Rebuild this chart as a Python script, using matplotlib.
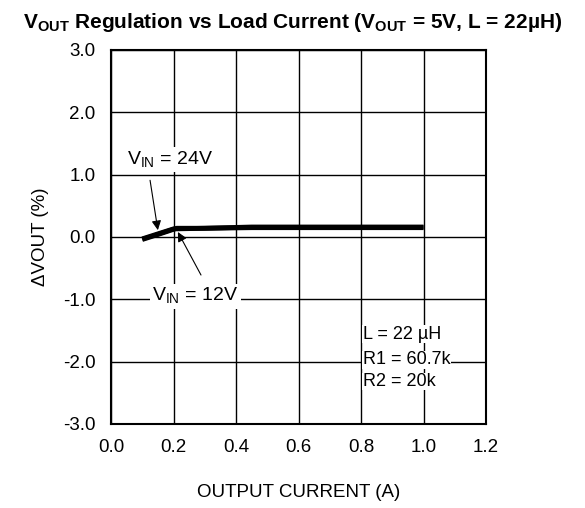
import matplotlib
matplotlib.use('Agg')
import matplotlib.pyplot as plt

plt.rcParams['font.family'] = ['Liberation Sans', 'DejaVu Sans']

# output current (A) vs delta Vout (%)
i_24v = [0.10, 0.15, 0.20, 0.30, 0.45, 0.60, 0.80, 1.00]
dv_24v = [-0.03, 0.05, 0.13, 0.14, 0.15, 0.15, 0.15, 0.15]
i_12v = [0.10, 0.15, 0.21, 0.30, 0.45, 0.60, 0.80, 1.00]
dv_12v = [-0.04, 0.04, 0.14, 0.14, 0.16, 0.16, 0.16, 0.16]

xticks = [0.0, 0.2, 0.4, 0.6, 0.8, 1.0, 1.2]
yticks = [-3.0, -2.0, -1.0, 0.0, 1.0, 2.0, 3.0]

fig = plt.figure(figsize=(5.85, 5.08), dpi=100)
ax = fig.add_axes([111/585, 1-424/508, 375/585, 374/508])

ax.plot(i_24v, dv_24v, color='black', lw=3.5, solid_capstyle='butt')
ax.plot(i_12v, dv_12v, color='black', lw=3.5, solid_capstyle='butt')

ax.set_xlim(0, 1.2)
ax.set_ylim(-3, 3)
ax.set_xticks(xticks)
ax.set_yticks(yticks)
ax.set_xticklabels(['%.1f' % v for v in xticks], fontsize=13.5)
ax.set_yticklabels(['%.1f' % v for v in yticks], fontsize=13.5)
ax.tick_params(axis='x', length=0, pad=11)
ax.tick_params(axis='y', length=0, pad=11)
ax.grid(True, color='black', lw=1)
for s in ax.spines.values():
    s.set_linewidth(1.5)

# labels with white boxes, arrows drawn separately
ax.text(0.189, 1.24, 'V$_{\\mathregular{IN}}$ = 24V', fontsize=14, ha='center', va='center',
        bbox=dict(fc='white', ec='none', pad=1.5))
ax.text(0.27, -0.95, 'V$_{\\mathregular{IN}}$ = 12V', fontsize=14, ha='center', va='center',
        bbox=dict(fc='white', ec='none', pad=1.5))
ax.annotate('', xy=(0.150, 0.11), xytext=(0.125, 0.91),
            arrowprops=dict(arrowstyle='-|>', color='black', lw=0.8,
                            shrinkA=0, shrinkB=0, mutation_scale=14))
ax.annotate('', xy=(0.214, 0.08), xytext=(0.288, -0.61),
            arrowprops=dict(arrowstyle='-|>', color='black', lw=0.8,
                            shrinkA=0, shrinkB=0, mutation_scale=14))

box_lines = ['L = 22 \u00b5H', 'R1 = 60.7k', 'R2 = 20k']
box_y = [-1.56, -1.97, -2.32]
for txt, yy in zip(box_lines, box_y):
    ax.text(0.805, yy, txt, fontsize=13, ha='left', va='center',
            bbox=dict(fc='white', ec='none', pad=0.3))

ax.set_xlabel('OUTPUT CURRENT (A)', fontsize=13.5, labelpad=20)
ax.set_ylabel('\u0394VOUT (%)', fontsize=13.5, labelpad=10)

fig.text(0.5, 1-22/508,
         'V$_{\\mathregular{OUT}}$ Regulation vs Load Current (V$_{\\mathregular{OUT}}$ = 5V, L = 22\u00b5H)',
         ha='center', va='center', fontsize=15, fontweight='bold')

fig.savefig('out.png', dpi=100)
